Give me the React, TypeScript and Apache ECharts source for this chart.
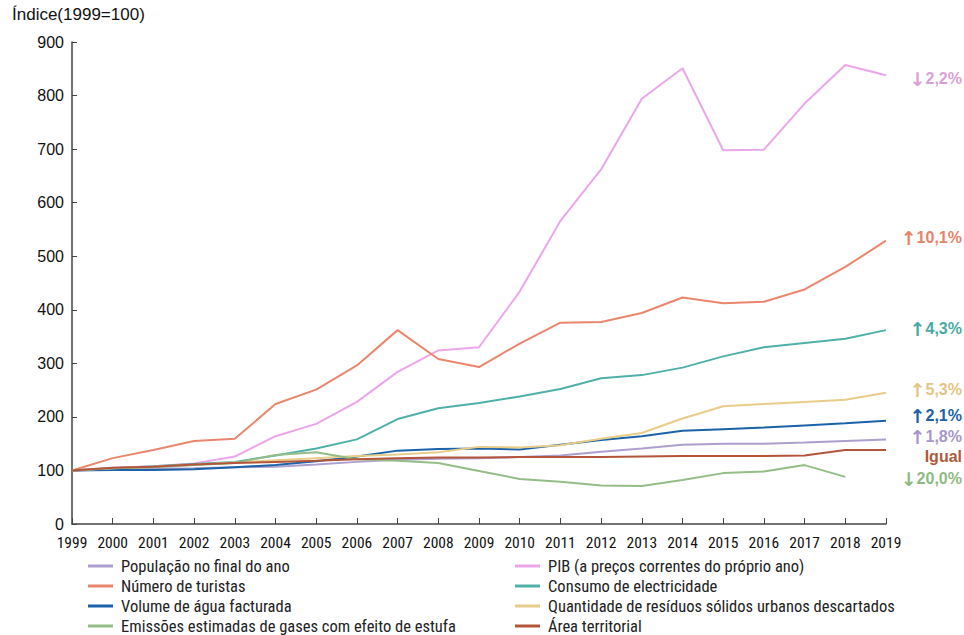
import React, { useEffect, useRef } from "react";
import * as echarts from "echarts";

const years = ["1999","2000","2001","2002","2003","2004","2005","2006","2007","2008","2009","2010","2011","2012","2013","2014","2015","2016","2017","2018","2019"];

const populacao = [100,102,103,104,106,107,111,116,120,122,123,125,128,135,141,148,150,150,152,155,158];
const pib = [100,105,108,113,126,164,187,228,284,324,330,434,566,662,794,851,698,699,785,857,838];
const turistas = [100,123,138,155,159,224,251,296,362,308,293,337,376,377,394,423,412,415,438,480,529];
const electricidade = [100,104,108,112,116,128,141,158,196,216,226,238,252,272,278,292,313,330,338,346,362];
const agua = [100,101,101,102,106,110,117,126,137,140,141,139,148,157,164,174,177,180,184,188,193];
const residuos = [100,104,107,110,115,119,123,127,130,134,144,143,147,159,170,197,220,224,228,232,245];
const emissoes = [100,104,106,110,114,129,134,121,118,114,99,84,79,72,71,82,95,98,110,88,null];
const area = [100,105,107,111,114,116,118,121,123,124,124,125,125,125,126,127,127,127,128,138,138];

const names = {
  pop: "População no final do ano",
  pib: "PIB (a preços correntes do próprio ano)",
  tur: "Número de turistas",
  ele: "Consumo de electricidade",
  agu: "Volume de água facturada",
  res: "Quantidade de resíduos sólidos urbanos descartados",
  emi: "Emissões estimadas de gases com efeito de estufa",
  are: "Área territorial",
};

const colors = {
  pop: "#ad9fcf",
  pib: "#eba6ea",
  tur: "#ea866d",
  ele: "#4fb0a8",
  agu: "#1b62a8",
  res: "#e8cc8a",
  emi: "#95bd88",
  are: "#b4553b",
};

const endLabels = [
  { arrow: "↓", text: "2,2%", y: 79, color: "#d99fda" },
  { arrow: "↑", text: "10,1%", y: 238, color: "#e8836b" },
  { arrow: "↑", text: "4,3%", y: 329, color: "#4aa9a3" },
  { arrow: "↑", text: "5,3%", y: 390, color: "#e3c585" },
  { arrow: "↑", text: "2,1%", y: 416, color: "#1c62a8" },
  { arrow: "↑", text: "1,8%", y: 437, color: "#a798c8" },
  { arrow: "", text: "Igual", y: 458, color: "#b05a3c" },
  { arrow: "↓", text: "20,0%", y: 479, color: "#8fba83" },
];

export default function App() {
  const ref = useRef<HTMLDivElement>(null);
  useEffect(() => {
    document.body.style.margin = "0";
    const chart = echarts.init(ref.current!, null, { renderer: "svg" });
    const mk = (key: string, data: (number | null)[]) => ({
      name: (names as any)[key],
      type: "line",
      data,
      symbol: "none",
      lineStyle: { width: 2, color: (colors as any)[key] },
      itemStyle: { color: (colors as any)[key] },
    });
    const narrow = "'Liberation Sans Narrow', 'Roboto Condensed', 'Liberation Sans', sans-serif";
    const legendCommon = {
      orient: "vertical",
      icon: "rect",
      itemWidth: 25,
      itemHeight: 3,
      itemGap: 0,
      padding: 0,
      height: 90,
      textStyle: { fontSize: 16.5, color: "#222", fontFamily: narrow, lineHeight: 20, padding: [0, 0, 0, 3] },
      selectedMode: false,
      top: 556,
    };
    chart.setOption({
      animation: false,
      backgroundColor: "#ffffff",
      title: {
        text: "Índice(1999=100)",
        left: 12,
        top: 6,
        padding: 0,
        textStyle: { fontSize: 17, fontWeight: "normal", color: "#111", fontFamily: "'Liberation Sans', Arial, sans-serif" },
      },
      grid: { left: 72, right: 78, top: 42, bottom: 111, containLabel: false },
      xAxis: {
        type: "category",
        data: years,
        boundaryGap: false,
        axisLine: { lineStyle: { color: "#444", width: 1.5 } },
        axisTick: { inside: true, length: 6, lineStyle: { color: "#444" }, alignWithLabel: true },
        axisLabel: { color: "#111", fontSize: 15.5, margin: 11, interval: 0, fontFamily: narrow },
      },
      yAxis: {
        type: "value",
        min: 0,
        max: 900,
        interval: 100,
        splitLine: { show: false },
        axisLine: { show: true, lineStyle: { color: "#444", width: 1.5 } },
        axisTick: { show: true, inside: true, length: 5, lineStyle: { color: "#444" } },
        axisLabel: { color: "#111", fontSize: 16, margin: 8, fontFamily: "'Liberation Sans', Arial, sans-serif" },
      },
      legend: [
        { ...legendCommon, left: 88, data: [names.pop, names.tur, names.agu, names.emi] },
        { ...legendCommon, left: 515, data: [names.pib, names.ele, names.res, names.are] },
      ],
      series: [
        mk("pop", populacao),
        mk("pib", pib),
        mk("tur", turistas),
        mk("ele", electricidade),
        mk("agu", agua),
        mk("res", residuos),
        mk("emi", emissoes),
        mk("are", area),
      ],
      graphic: endLabels.map((l) => ({
        type: "text",
        right: 2,
        top: l.y - 10,
        style: {
          text: l.arrow ? `{a|${l.arrow}}{b|${l.text}}` : `{b|${l.text}}`,
          rich: {
            a: { fill: l.color, font: "bold 19px 'DejaVu Sans', sans-serif" },
            b: { fill: l.color, font: "bold 16px 'Liberation Sans', Arial, sans-serif" },
          },
        },
      })),
    });
    return () => chart.dispose();
  }, []);
  return <div ref={ref} style={{ width: 964, height: 635 }} />;
}
